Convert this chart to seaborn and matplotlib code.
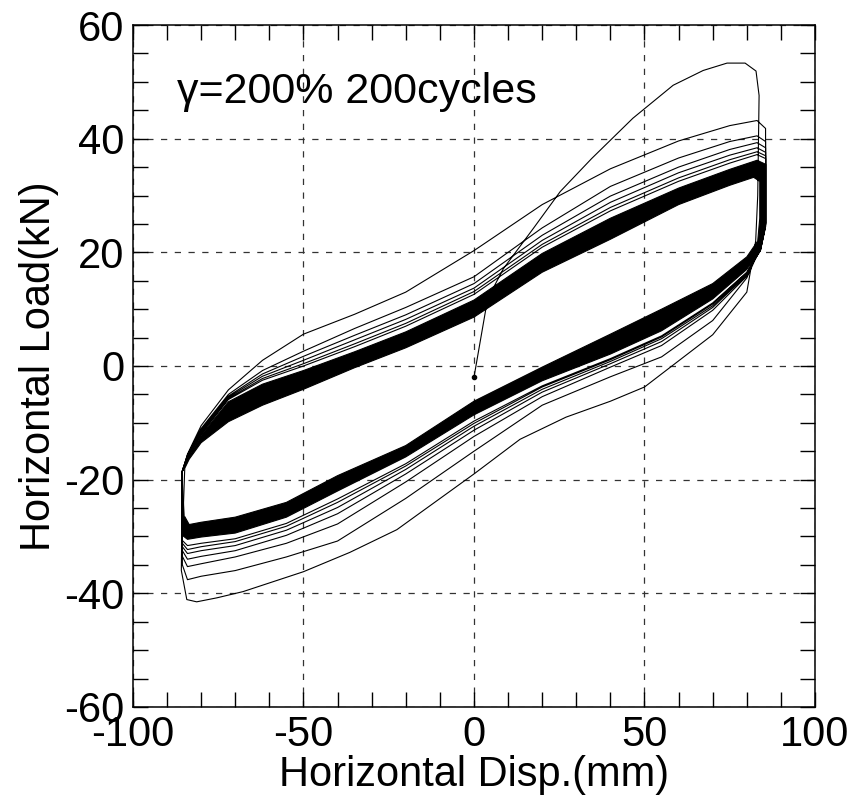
"""
Hysteresis loops of a rubber bearing, gamma=200 %, 200 cycles.
"""
import pandas as pd
import seaborn as sns
import matplotlib.pyplot as plt
import matplotlib.ticker as plticker

sns.set_style("white")
plt.rcParams['font.family'] = ['Liberation Sans', 'DejaVu Sans']
plt.rcParams.update({'font.size': 30,
                     'axes.linewidth': 1.1,
                     'axes.edgecolor': 'black',
                     'axes.labelcolor': 'black',
                     'text.color': 'black',
                     'xtick.color': 'black',
                     'ytick.color': 'black',
                     'axes.unicode_minus': False})

# first cycle: initial loading from the origin, then first unloading branch
C1_X = [0, 4, 8.6, 17.4, 25.3, 34.5, 46.6, 58.4, 67.2, 74.2, 79.5, 82.7, 83.6,
        83.2, 82.6, 80, 70, 60, 50, 40, 27, 13.5, 0, -22.6, -36.4, -50,
        -67.7, -75.4, -81.3, -84.2, -85.8]
C1_Y = [-2, 11.8, 17.1, 24.2, 30.7, 36.5, 43.6, 49.4, 52, 53.3, 53.3, 51.9, 47.6,
        30, 22, 13, 5.5, 0.9, -3.7, -6.2, -9, -12.9, -19, -28.8, -32.8, -36.2,
        -39.7, -40.8, -41.5, -41.1, -36]

# displacement points of the upper (loading) and lower (unloading) branches
UP_X = [-85.5, -84, -80, -72, -62, -50, -35, -20, 0, 20, 40, 60, 75, 83, 85.5]
LOW_X = [85.5, 84, 80, 70, 55, 40, 20, 0, -20, -40, -55, -70, -80, -84, -85.5]

CYC2_UP = [-18.5, -15.5, -10.5, -4.2, 1.0, 5.6, 9.1, 13.0, 20.3, 28.4, 34.7, 39.6, 42.3, 43.2, 41.8]
CYC2_LOW = [25.0, 20.8, 15.5, 8.0, 1.6, -1.9, -6.9, -15.0, -23.3, -30.8, -33.6, -36.0, -37.0, -37.6, -35.0]
CYC3_UP = [-18.4, -15.7, -11.0, -5.0, -0.8, 2.6, 6.6, 10.3, 15.7, 24.3, 31.6, 36.6, 39.5, 40.5, 39.5]
CYC3_LOW = [25.2, 21.0, 15.8, 9.8, 3.6, -0.2, -5.4, -12.4, -20.4, -27.8, -31.2, -33.6, -34.8, -35.3, -33.5]
CYC4_UP = [-18.4, -15.8, -11.3, -5.3, -1.4, 1.7, 5.4, 9.0, 14.5, 23.0, 29.9, 35.0, 38.1, 39.3, 38.4]
CYC4_LOW = [25.0, 20.8, 16.0, 10.3, 4.3, 0.4, -4.6, -11.3, -19.0, -26.0, -29.8, -32.5, -33.5, -34.0, -32.5]
CYC5_UP = [-18.5, -15.9, -11.5, -5.5, -1.8, 1.0, 4.6, 8.2, 13.7, 22.1, 28.8, 34.0, 37.1, 38.4, 37.6]
CYC5_LOW = [24.9, 20.6, 16.2, 10.6, 4.8, 0.8, -4.1, -10.6, -18.2, -24.9, -28.9, -31.6, -32.5, -33.0, -31.8]
CYC6_UP = [-18.5, -16.0, -11.7, -5.7, -2.2, 0.4, 3.9, 7.5, 13.1, 21.4, 27.9, 33.1, 36.3, 37.7, 37.0]
CYC6_LOW = [24.8, 20.4, 16.4, 10.9, 5.1, 1.1, -3.7, -10.1, -17.6, -24.0, -28.2, -30.9, -31.8, -32.3, -31.2]
CYC8_UP = [-18.5, -16.1, -11.9, -5.9, -2.5, 0.0, 3.4, 7.0, 12.6, 20.9, 27.3, 32.5, 35.7, 37.2, 36.5]
CYC8_LOW = [24.6, 20.3, 16.5, 11.1, 5.3, 1.3, -3.5, -9.7, -17.2, -23.4, -27.7, -30.4, -31.2, -31.6, -30.7]

# dense band of the later cycles: outer edge and last cycle (inner edge)
BAND_OUT_UP = [-18.6, -16.3, -12.2, -6.3, -3.2, -0.8, 2.5, 6.0, 11.6, 19.8, 26.0, 31.3, 34.6, 36.2, 35.5]
BAND_OUT_LOW = [24.5, 20.4, 17.0, 11.8, 6.2, 2.1, -2.6, -8.6, -16.0, -22.0, -26.6, -29.4, -30.1, -30.5, -29.8]
IN_UP_X = [-84.8, -83.5, -80, -72, -62, -50, -35, -20, 0, 20, 40, 60, 75, 82, 83.8]
IN_LOW_X = [83.8, 83.2, 80, 70, 55, 40, 20, 0, -20, -40, -55, -70, -80, -83.5, -84.8]
BAND_IN_UP = [-18.0, -16.4, -13.5, -9.8, -6.9, -4.1, -0.3, 3.2, 8.6, 16.5, 22.3, 28.4, 31.8, 33.2, 32.5]
BAND_IN_LOW = [26.0, 22.0, 19.2, 14.5, 10.0, 5.6, -0.2, -6.2, -14.0, -19.3, -24.0, -26.6, -27.5, -27.9, -26.5]

LABEL_TEXT = "\u03b3=200% 200cycles"

fan = [(CYC2_UP, CYC2_LOW), (CYC3_UP, CYC3_LOW), (CYC4_UP, CYC4_LOW),
       (CYC5_UP, CYC5_LOW), (CYC6_UP, CYC6_LOW), (CYC8_UP, CYC8_LOW),
       (BAND_OUT_UP, BAND_OUT_LOW)]

path_x = list(C1_X)
path_y = list(C1_Y)
for up_y, low_y in fan:
    path_x += UP_X + LOW_X
    path_y += up_y + low_y
path_x += IN_UP_X + IN_LOW_X
path_y += BAND_IN_UP + BAND_IN_LOW

df = pd.DataFrame({"disp": path_x, "load": path_y})

# ring between outer edge of the band and the last loop (inner one reversed)
ring_x = UP_X + LOW_X + UP_X[:1] + (IN_UP_X + IN_LOW_X)[::-1] + IN_UP_X[:1]
ring_y = (BAND_OUT_UP + BAND_OUT_LOW + BAND_OUT_UP[:1]
          + (BAND_IN_UP + BAND_IN_LOW)[::-1] + BAND_IN_UP[:1])

fig = plt.figure(figsize=(8.52, 8.02), dpi=100)
ax = fig.add_axes([0.156, 0.1185, 0.8006, 0.8503])

ax.fill(ring_x, ring_y, color="black", lw=0, zorder=2)
sns.lineplot(data=df, x="disp", y="load", sort=False, estimator=None,
             color="black", lw=0.8, ax=ax, zorder=3)
ax.plot(C1_X[:1], C1_Y[:1], marker="o", ms=3, color="black", zorder=4)

ax.set_xlim(-100, 100)
ax.set_ylim(-60, 60)
ax.xaxis.set_major_locator(plticker.MultipleLocator(50))
ax.xaxis.set_minor_locator(plticker.MultipleLocator(10))
ax.yaxis.set_major_locator(plticker.MultipleLocator(20))
ax.yaxis.set_minor_locator(plticker.MultipleLocator(5))
ax.tick_params(which="both", direction="in", top=True, right=True,
               bottom=True, left=True, length=11, width=1.0)
ax.tick_params(which="major", labelsize=30, pad=6)
ax.grid(True, which="major", linestyle=(0, (5, 6)), color="#333333", lw=0.9)

ax.set_xlabel("Horizontal Disp.(mm)", fontsize=30, labelpad=0)
ax.set_ylabel("Horizontal Load(kN)", fontsize=30, labelpad=4)
ax.text(-87, 46.3, LABEL_TEXT, fontsize=31, ha="left", va="baseline")

fig.savefig("out.png", dpi=100)
